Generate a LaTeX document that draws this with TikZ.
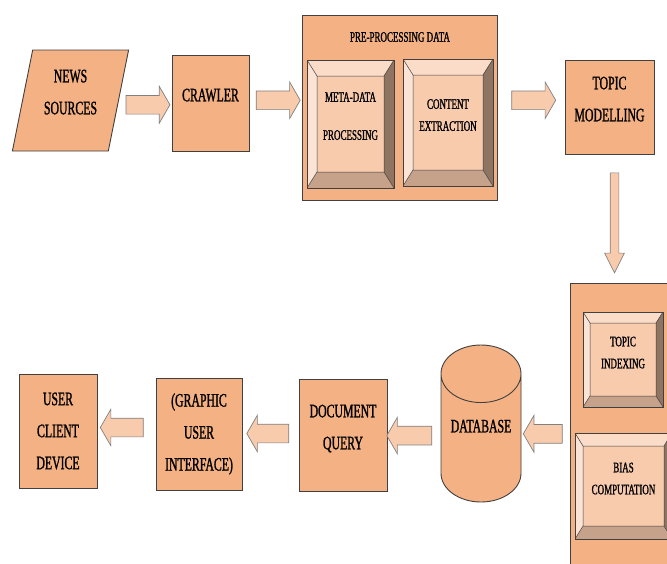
\documentclass[tikz,border=0pt]{standalone}
\usepackage{fontspec}
\setmainfont{Liberation Serif}[FakeStretch=0.62, FakeBold=1.2]
\usetikzlibrary{shapes.geometric,shapes.arrows,calc}

\definecolor{boxfill}{HTML}{F4B183}
\definecolor{arrowfill}{HTML}{F8CBAD}
\definecolor{edgegray}{HTML}{404040}
\definecolor{bevtop}{HTML}{FADCC8}
\definecolor{bevleft}{HTML}{FBE4D5}
\definecolor{bevright}{HTML}{8E7461}
\definecolor{bevbottom}{HTML}{C6A28B}

\begin{document}
\begin{tikzpicture}[x=1pt, y=-1pt,
    box/.style={draw=edgegray, line width=0.9pt, fill=boxfill, inner sep=0pt,
        align=center, font=\fontsize{19}{32}\selectfont},
    small/.style={align=center, font=\fontsize{14.5}{22}\selectfont},
    lift/.style={text depth=#1},
    bevelbox/.style 2 args={draw=edgegray, line width=0.9pt, fill=arrowfill,
        inner sep=0pt, small, path picture={
        \coordinate (p1) at (path picture bounding box.north west);
        \coordinate (p2) at (path picture bounding box.north east);
        \coordinate (p3) at (path picture bounding box.south east);
        \coordinate (p4) at (path picture bounding box.south west);
        \coordinate (q1) at ([xshift=#1, yshift=-#2]p1);
        \coordinate (q2) at ([xshift=-#1, yshift=-#2]p2);
        \coordinate (q3) at ([xshift=-#1, yshift=#2]p3);
        \coordinate (q4) at ([xshift=#1, yshift=#2]p4);
        \fill[bevtop] (p1) -- (p2) -- (q2) -- (q1) -- cycle;
        \fill[bevright] (p2) -- (p3) -- (q3) -- (q2) -- cycle;
        \fill[bevbottom] (p3) -- (p4) -- (q4) -- (q3) -- cycle;
        \fill[bevleft] (p4) -- (p1) -- (q1) -- (q4) -- cycle;
        \draw[edgegray, line width=0.5pt] (q1) -- (q2) -- (q3) -- (q4) -- cycle
            (p1) -- (q1) (p2) -- (q2) (p3) -- (q3) (p4) -- (q4);
    }},
    flowarrow/.style={single arrow, draw=gray, line width=0.7pt, fill=arrowfill,
        inner xsep=0pt, inner ysep=9pt, single arrow head extend=9pt,
        single arrow tip angle=120}
]
    \useasboundingbox (0,0) rectangle (667,563);
    \clip (0,0) rectangle (667,563);

    % Top row
    \node[box, trapezium, trapezium left angle=77, trapezium right angle=103,
        trapezium stretches=true, minimum width=117pt, minimum height=101pt,
        lift=17pt] (news) at (70.5,100.5) {NEWS\\SOURCES};
    \node[box, minimum width=77pt, minimum height=96pt, lift=16pt] (crawler)
        at (210.5,103) {CRAWLER};

    \node[box, minimum width=195pt, minimum height=185pt] (preproc) at (399.5,107.5) {};
    \node[small] (pretitle) at (400,37) {PRE-PROCESSING DATA};
    \node[bevelbox={10pt}{16pt}, minimum width=87pt, minimum height=128pt, lift=16pt]
        (meta) at (350.5,124) {META-DATA\\[16pt]PROCESSING};
    \node[bevelbox={10pt}{16pt}, minimum width=90pt, minimum height=127pt, lift=15pt]
        (content) at (448,122.5) {CONTENT\\EXTRACTION};

    \node[box, minimum width=89pt, minimum height=94pt, lift=16pt] (topic)
        at (609.5,107) {TOPIC\\MODELLING};

    % Indexing block on the right
    \node[box, minimum width=120pt, minimum height=297pt] (analysis) at (630,431.5) {};
    \node[bevelbox={7pt}{11pt}, minimum width=80pt, minimum height=95pt, lift=14pt]
        (tindex) at (623,359.5) {TOPIC\\INDEXING};
    \node[bevelbox={8pt}{13pt}, minimum width=97pt, minimum height=106pt, lift=15pt]
        (bias) at (623.5,486) {BIAS\\COMPUTATION};

    % Bottom row
    \node[box, cylinder, shape border rotate=90, aspect=0.95, anchor=shape center,
        minimum width=80pt, minimum height=157pt, cylinder uses custom fill,
        cylinder body fill=boxfill, cylinder end fill=arrowfill, lift=24pt]
        (db) at (481,423.5) {DATABASE};
    \node[box, minimum width=88pt, minimum height=112pt, lift=16pt] (dquery)
        at (343,435) {DOCUMENT\\QUERY};
    \node[box, minimum width=86pt, minimum height=112pt] (gui)
        at (199,434) {(GRAPHIC\\USER\\INTERFACE)};
    \node[box, minimum width=78pt, minimum height=114pt] (ucd)
        at (58,431) {USER\\CLIENT\\DEVICE};

    % Block arrows
    \node[flowarrow, minimum height=44pt] (arr1)
        at ($(news.east)!.5!(crawler.west) + (0,3)$) {};
    \node[flowarrow, minimum height=44pt] (arr2)
        at ($(crawler.east)!.5!(preproc.west) + (0,-5)$) {};
    \node[flowarrow, minimum height=44pt] (arr3)
        at ($(preproc.east)!.5!(topic.west) + (0,-7)$) {};
    \node[flowarrow, rotate=-90, minimum height=100pt, inner ysep=4pt,
        single arrow head extend=5.5pt, single arrow tip angle=53] (arr4)
        at ($(topic.south)!.5!(topic.south |- analysis.north) + (5,0)$) {};
    \node[flowarrow, rotate=180, minimum height=39pt] (arr5)
        at ($(analysis.west)!.5!(db.east) + (0,-1)$) {};
    \node[flowarrow, rotate=180, minimum height=45pt] (arr6)
        at ($(db.west)!.5!(dquery.east) + (-2,-1)$) {};
    \node[flowarrow, rotate=180, minimum height=42pt] (arr7)
        at ($(dquery.west)!.5!(gui.east) + (0,-1)$) {};
    \node[flowarrow, rotate=180, minimum height=43pt] (arr8)
        at ($(gui.west)!.5!(ucd.east) + (-2,-5)$) {};
\end{tikzpicture}
\end{document}
